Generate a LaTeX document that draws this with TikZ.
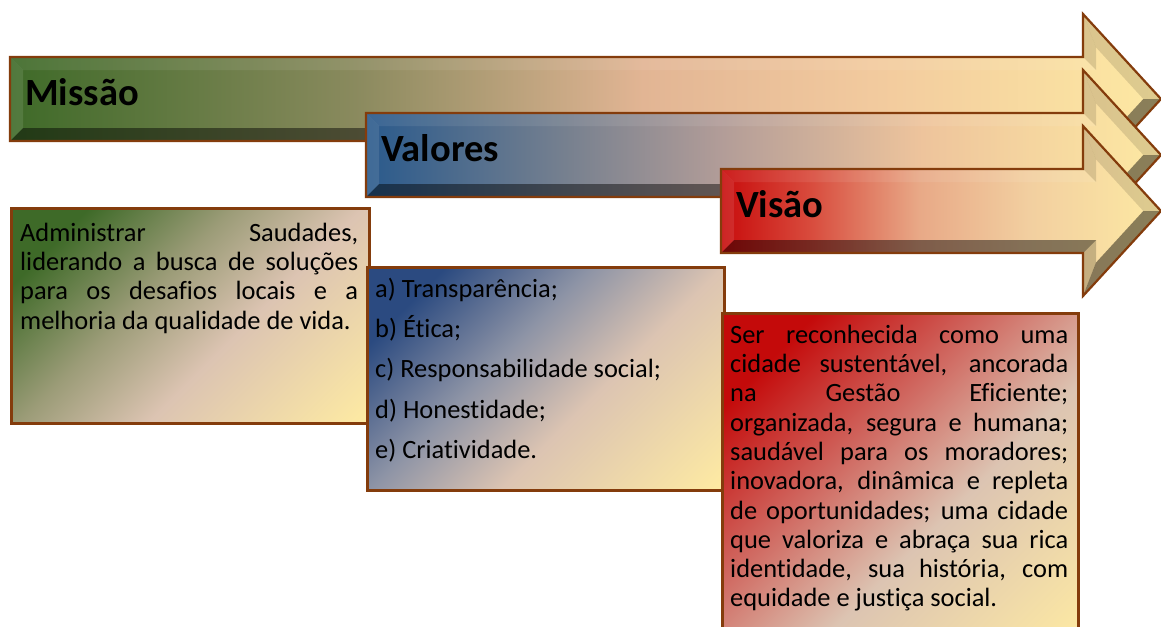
\documentclass[tikz,border=0pt]{standalone}
\usepackage{fontspec}
\setmainfont{Carlito}[Ligatures=NoCommon]
\usetikzlibrary{calc}
\definecolor{brd}{HTML}{843C0C}
\definecolor{yel}{HTML}{FDE9A3}
\definecolor{mA}{HTML}{3E6A28}\definecolor{mB}{HTML}{8A8A5E}\definecolor{mC}{HTML}{E2B594}\definecolor{mD}{HTML}{F2CA9E}
\definecolor{vA}{HTML}{2A5A8C}\definecolor{vB}{HTML}{76808F}\definecolor{vC}{HTML}{B39D98}\definecolor{vD}{HTML}{EEC49C}
\definecolor{sA}{HTML}{C80C0C}\definecolor{sB}{HTML}{D84A3C}\definecolor{sC}{HTML}{E8A987}\definecolor{sD}{HTML}{F2CFA0}
\definecolor{pk}{HTML}{DCC4B2}
\definecolor{gA}{HTML}{9C9C78}\definecolor{bA}{HTML}{2B4A80}\definecolor{bB}{HTML}{8E94A6}
\definecolor{rA}{HTML}{C40A0A}\definecolor{rB}{HTML}{D06A62}
\pgfdeclarehorizontalshading{shMissao}{100bp}{color(0bp)=(mA); color(25bp)=(mA); color(40bp)=(mB); color(52.5bp)=(mC); color(62.5bp)=(mD); color(75bp)=(yel); color(100bp)=(yel)}
\pgfdeclarehorizontalshading{shValores}{100bp}{color(0bp)=(vA); color(25bp)=(vA); color(37.5bp)=(vB); color(47.5bp)=(vC); color(60bp)=(vD); color(75bp)=(yel); color(100bp)=(yel)}
\pgfdeclarehorizontalshading{shVisao}{100bp}{color(0bp)=(sA); color(25bp)=(sA); color(35bp)=(sB); color(47.5bp)=(sC); color(60bp)=(sD); color(75bp)=(yel); color(100bp)=(yel)}
\pgfdeclarehorizontalshading{shBoxM}{100bp}{color(0bp)=(mA); color(24bp)=(mA); color(42bp)=(gA); color(58bp)=(pk); color(84bp)=(yel); color(100bp)=(yel)}
\pgfdeclarehorizontalshading{shBoxV}{100bp}{color(0bp)=(bA); color(24bp)=(bA); color(42bp)=(bB); color(58bp)=(pk); color(84bp)=(yel); color(100bp)=(yel)}
\pgfdeclarehorizontalshading{shBoxS}{100bp}{color(0bp)=(rA); color(24bp)=(rA); color(42bp)=(rB); color(58bp)=(pk); color(84bp)=(yel); color(100bp)=(yel)}
\tikzset{
  hdr/.style={font=\bfseries\fontsize{38.5pt}{40pt}\selectfont, inner sep=0pt, text=black},
  outl/.style={draw=brd, line width=2.2pt, line join=miter},
  boxst/.style={draw=brd, line width=3pt, shade, shading angle=-45, inner sep=0pt, anchor=north west},
  txt/.style={inner sep=0pt, anchor=north west, text=black},
}
% #1 name, #2 left x, #3 centre y, #4 shading, #5 label
\newcommand\bigarrow[5]{%
  \path[shade, shading=#4] ({#2},{#3-42}) -- (1083,{#3-42}) -- (1083,{#3-85}) -- (1161,{#3}) -- (1083,{#3+85}) -- (1083,{#3+42}) -- ({#2},{#3+42}) -- cycle;
  \fill[white, opacity=0.08] ({#2},{#3-42}) -- (1083,{#3-42}) -- (1096,{#3-29}) -- ({#2+13},{#3-29}) -- cycle;
  \fill[black, opacity=0.12] (1083,{#3-42}) -- (1083,{#3-85}) -- (1096,{#3-51.6}) -- (1096,{#3-29}) -- cycle;
  \fill[black, opacity=0.12] (1083,{#3-85}) -- (1161,{#3}) -- (1143.3,{#3}) -- (1096,{#3-51.6}) -- cycle;
  \fill[black, opacity=0.45] (1161,{#3}) -- (1083,{#3+85}) -- (1096,{#3+51.6}) -- (1143.3,{#3}) -- cycle;
  \fill[black, opacity=0.2] (1083,{#3+85}) -- (1083,{#3+42}) -- (1096,{#3+29}) -- (1096,{#3+51.6}) -- cycle;
  \fill[black, opacity=0.45] (1083,{#3+42}) -- ({#2},{#3+42}) -- ({#2+13},{#3+29}) -- (1096,{#3+29}) -- cycle;
  \fill[white, opacity=0.1] ({#2},{#3+42}) -- ({#2},{#3-42}) -- ({#2+13},{#3-29}) -- ({#2+13},{#3+29}) -- cycle;
  \path[outl] ({#2},{#3-42}) -- (1083,{#3-42}) -- (1083,{#3-85}) -- (1161,{#3}) -- (1083,{#3+85}) -- (1083,{#3+42}) -- ({#2},{#3+42}) -- cycle;
  \node[hdr, anchor=base west] (#1) at ({#2+15},{#3+6.5}) {#5};
}
\newcommand\jl[1]{\leavevmode\hbox to 338pt{#1}}
\newcommand\natsp{\spaceskip=0pt\xspaceskip=0pt\relax}
\begin{document}
\begin{tikzpicture}[x=1pt, y=-1pt]
\useasboundingbox (0,0) rectangle (1161,626);
\fill[white] (0,0) rectangle (1161,626);
\bigarrow{missao}{10}{99}{shMissao}{Missão}
\bigarrow{valores}{366}{155}{shValores}{Valores}
\bigarrow{visao}{721}{211}{shVisao}{Visão}
% boxes
\node[boxst, shading=shBoxM, minimum width=358pt, minimum height=215pt] (boxm) at (10,207) {};
\node[boxst, shading=shBoxV, minimum width=357pt, minimum height=223pt] (boxv) at (366,266) {};
\node[boxst, shading=shBoxS, minimum width=356pt, minimum height=340pt] (boxs) at (721,312) {};
\node[txt, text width=338pt, align=left, font=\fontsize{26.4pt}{29.3pt}\selectfont] (tm) at (20,221) {%
\natsp\rule{0pt}{20pt}\jl{Administrar Saudades,}\\
\jl{liderando a busca de soluções}\\
\jl{para os desafios locais e a}\\
melhoria da qualidade de vida.};
\node[txt, align=left, font=\fontsize{26.4pt}{40.3pt}\selectfont] (tv) at (375,277) {%
\natsp\rule{0pt}{20pt}a) Transparência;\\
b) Ética;\\
c) Responsabilidade social;\\
d) Honestidade;\\
e) Criatividade.};
\node[txt, text width=338pt, align=left, font=\fontsize{26.4pt}{29.3pt}\selectfont] (ts) at (730,323) {%
\natsp\rule{0pt}{20pt}\jl{Ser reconhecida como uma}\\
\jl{cidade sustentável, ancorada}\\
\jl{na Gestão Eficiente;}\\
\jl{organizada, segura e humana;}\\
\jl{saudável para os moradores;}\\
\jl{inovadora, dinâmica e repleta}\\
\jl{de oportunidades; uma cidade}\\
\jl{que valoriza e abraça sua rica}\\
\jl{identidade, sua história, com}\\
equidade e justiça social.};
\end{tikzpicture}
\end{document}
